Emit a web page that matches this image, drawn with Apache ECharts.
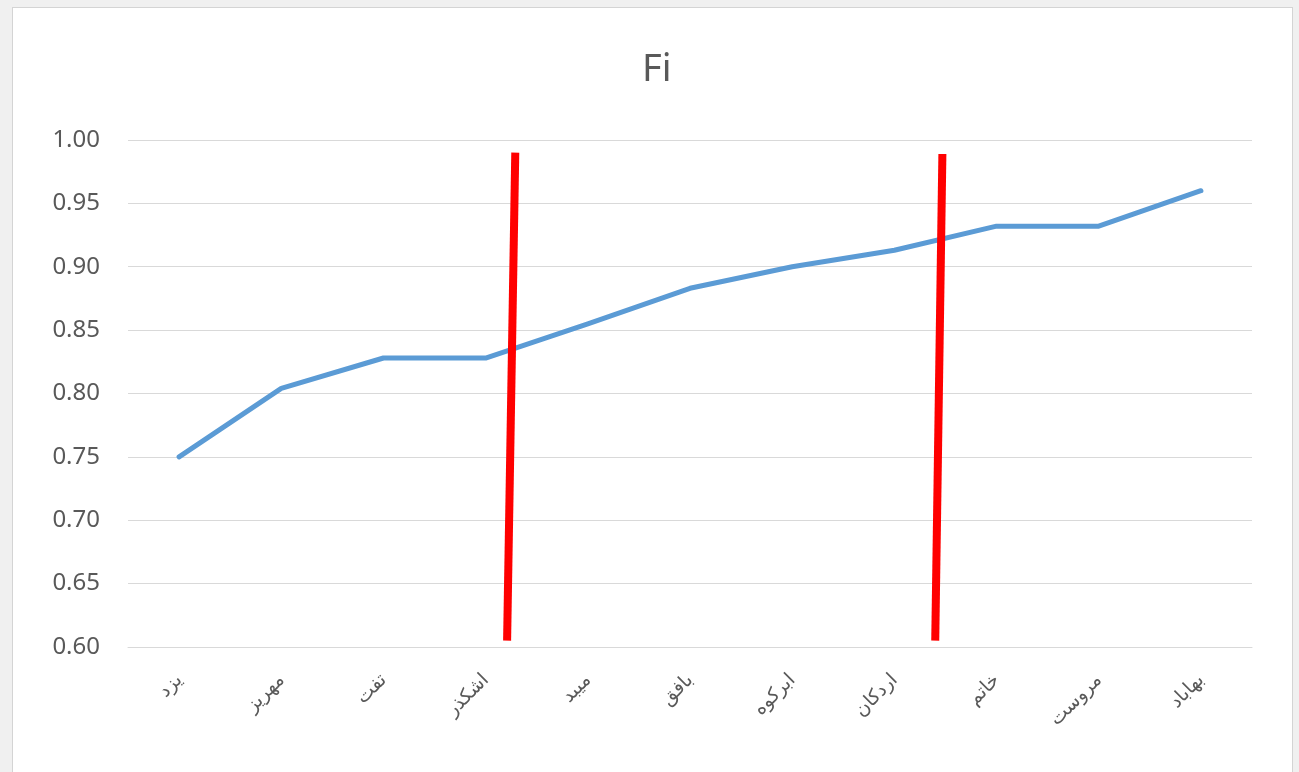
<!DOCTYPE html>
<html>
<head>
<meta charset="utf-8">
<script src="https://cdn.jsdelivr.net/npm/echarts@6/dist/echarts.min.js"></script>
<style>
  html, body { margin: 0; padding: 0; width: 1299px; height: 772px; background: #f0f0f0; overflow: hidden; }
  #frame { position: absolute; left: 12px; top: 7px; width: 1279px; height: 800px; background: #ffffff; border: 1px solid #d4d4d4; }
  #chart { position: absolute; left: 0; top: 0; width: 1299px; height: 772px; }
</style>
</head>
<body>
<div id="frame"></div>
<div id="chart"></div>
<script>
// Cities of Yazd province, ordered by Fi
const cities = ['یزد', 'مهریز', 'تفت', 'اشکذر', 'میبد', 'بافق', 'ابرکوه', 'اردکان', 'خاتم', 'مروست', 'بهاباد'];
const fiValues = [0.750, 0.804, 0.828, 0.828, 0.855, 0.883, 0.900, 0.913, 0.932, 0.932, 0.960];
const yTicks = { min: 0.60, max: 1.00, step: 0.05 };

// Group dividers, in category-index units along the x axis (0 = left edge of first band)
const dividerA = [[3.79, 0.990], [3.71, 0.605]];
const dividerB = [[7.97, 0.989], [7.90, 0.605]];

const chart = echarts.init(document.getElementById('chart'), null, { renderer: 'canvas' });

const labelFont = '"Noto Sans", "Open Sans", sans-serif';

chart.setOption({
  animation: false,
  backgroundColor: 'transparent',
  title: {
    text: 'Fi',
    left: 637,
    top: 46,
    textStyle: { color: '#595959', fontSize: 38, fontWeight: 'normal', fontFamily: labelFont }
  },
  grid: { left: 128, right: 47, top: 140, bottom: 125, containLabel: false },
  xAxis: [
    {
      type: 'category',
      data: cities,
      boundaryGap: true,
      axisLine: { show: true, lineStyle: { color: '#d9d9d9', width: 1 } },
      axisTick: { show: false },
      axisLabel: {
        rotate: 45,
        margin: 30,
        color: '#595959',
        fontSize: 19,
        fontFamily: '"Noto Sans", "DejaVu Sans", sans-serif'
      }
    },
    {
      type: 'value',
      min: 0,
      max: cities.length,
      show: false
    }
  ],
  yAxis: {
    type: 'value',
    min: yTicks.min,
    max: yTicks.max,
    interval: yTicks.step,
    axisLine: { show: false },
    axisTick: { show: false },
    splitLine: { lineStyle: { color: '#d9d9d9', width: 1 } },
    axisLabel: {
      margin: 28,
      color: '#595959',
      fontSize: 24,
      fontFamily: labelFont,
      formatter: v => v.toFixed(2)
    }
  },
  series: [
    {
      type: 'line',
      data: fiValues,
      xAxisIndex: 0,
      symbol: 'none',
      lineStyle: { color: '#5b9bd5', width: 5, cap: 'round', join: 'round' },
      z: 3
    },
    {
      type: 'line',
      xAxisIndex: 1,
      data: dividerA,
      symbol: 'none',
      lineStyle: { color: '#ff0000', width: 8 },
      z: 4
    },
    {
      type: 'line',
      xAxisIndex: 1,
      data: dividerB,
      symbol: 'none',
      lineStyle: { color: '#ff0000', width: 8 },
      z: 4
    }
  ]
});
</script>
</body>
</html>
